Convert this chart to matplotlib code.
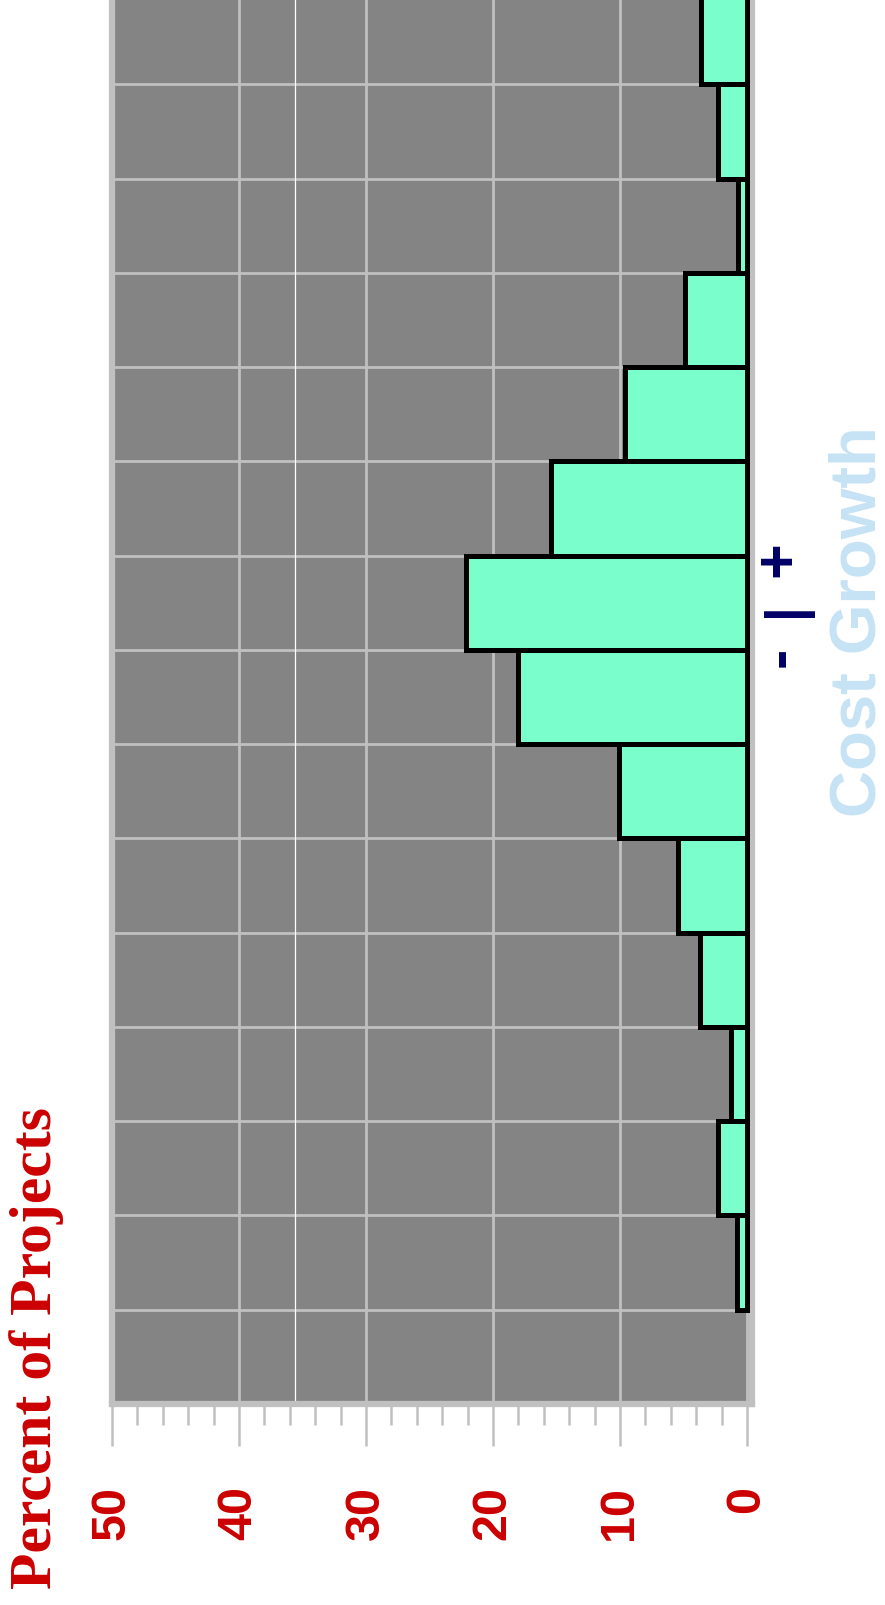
import matplotlib.pyplot as plt
import numpy as np

# histogram of project cost growth, drawn on its side like the original page
pct = [3.6, 2.3, 0.7, 4.9, 9.6, 15.4, 22.1, 18.0, 10.1, 5.4, 3.7, 1.25, 2.3, 0.8, 0.0]
xticks = [0, 10, 20, 30, 40, 50]

W, H = 885, 1606
fig = plt.figure(figsize=(W / 100, H / 100), dpi=100)


def fx(px):
    return px / W


def fy(py):
    return 1 - py / H


grid_c = '#c0c0c0'
red = '#cc0000'

ax = fig.add_axes([fx(112), fy(1405), fx(752) - fx(112), fy(-9) - fy(1405)])
ax.set_facecolor('#848484')

pos = np.arange(len(pct))
vals = np.array(pct)
keep = vals > 0
ax.barh(pos[keep], vals[keep], height=1.0, color='#7affcc',
        edgecolor='black', linewidth=3.6, zorder=3)

ax.set_xlim(50, -0.4)
ax.set_ylim(len(pct) - 0.5, -0.5)

ax.set_xticks(xticks)
ax.set_xticks(np.arange(0, 51, 2), minor=True)
ax.set_xticklabels([str(t) for t in xticks], rotation=90,
                   fontsize=35, fontweight='bold', color=red,
                   family='Liberation Sans')
ax.tick_params(axis='x', which='major', length=30, width=1.8,
               color=grid_c, pad=28)
ax.tick_params(axis='x', which='minor', length=15, width=1.8, color=grid_c)

ax.set_yticks(np.arange(-0.5, len(pct), 1))
ax.tick_params(axis='y', length=0, labelleft=False)

ax.grid(True, which='major', axis='both', color=grid_c, linewidth=2, zorder=1)
ax.axvline(35.6, color='white', linewidth=0.9, zorder=1)
ax.set_axisbelow(True)

for s in ['left', 'right', 'bottom']:
    ax.spines[s].set_color(grid_c)
    ax.spines[s].set_linewidth(4.5)
ax.spines['top'].set_visible(False)

fig.text(fx(37), fy(1348), 'Percent of Projects', rotation=90,
         ha='center', va='center', color=red, fontsize=43,
         fontweight='bold', family='Liberation Serif')
fig.text(fx(858), fy(622), 'Cost Growth', rotation=90,
         ha='center', va='center', color='#c6e2f5', fontsize=47,
         fontweight='bold', family='Liberation Sans')

navy = '#000066'
fig.text(fx(781), fy(657), '-', rotation=90, ha='center', va='center',
         color=navy, fontsize=44, fontweight='bold', family='Liberation Sans')
fig.text(fx(786), fy(610), '|', rotation=90, ha='center', va='center',
         color=navy, fontsize=38, fontweight='bold', family='Liberation Sans')
fig.text(fx(780), fy(559), '+', rotation=90, ha='center', va='center',
         color=navy, fontsize=44, fontweight='bold', family='Liberation Sans')

fig.savefig('out.png', dpi=100)
